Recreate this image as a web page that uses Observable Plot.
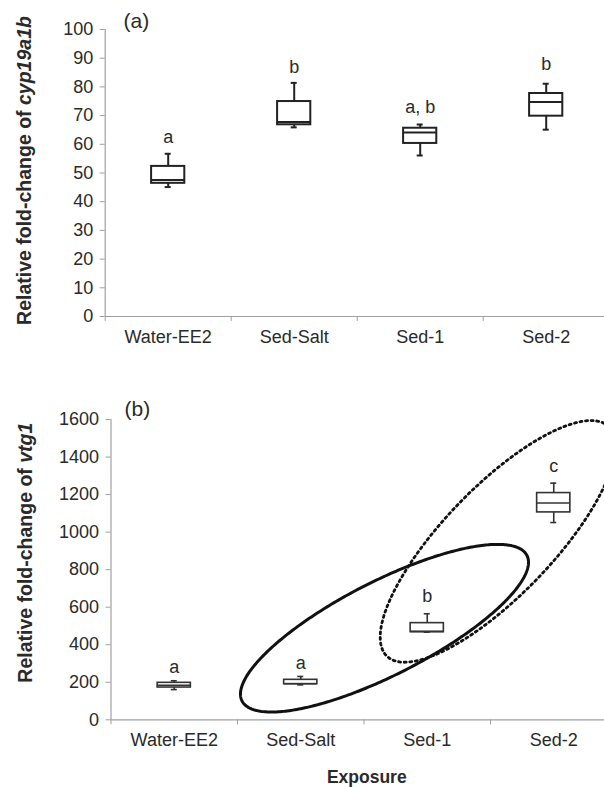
<!DOCTYPE html>
<html>
<head>
<meta charset="utf-8">
<script src="https://cdn.jsdelivr.net/npm/d3@7"></script>
<script src="https://cdn.jsdelivr.net/npm/@observablehq/plot@0.6"></script>
<style>
  html, body { margin: 0; padding: 0; background: white; overflow: hidden; }
  #wrap { position: relative; width: 604px; height: 787px; }
  .panel { position: absolute; left: 0; }
</style>
</head>
<body>
<div id="wrap">
  <div id="pa" class="panel" style="top:0px"></div>
  <div id="pb" class="panel" style="top:380px"></div>
</div>
<script>
// ---------- data ----------
const categories = ["Water-EE2", "Sed-Salt", "Sed-1", "Sed-2"];

// Panel (a): cyp19a1b
const aWhiskerLow  = [45.1, 65.9, 56.1, 65.1];
const aQ1          = [46.4, 66.8, 60.3, 69.8];
const aMedian      = [47.6, 67.8, 64.1, 74.7];
const aQ3          = [52.3, 74.9, 65.6, 77.7];
const aWhiskerHigh = [56.7, 81.4, 66.9, 81.1];
const aLetters     = ["a", "b", "a, b", "b"];
const aLetterY     = [62.4, 86.8, 72.8, 87.8];
const aTicks       = [0, 10, 20, 30, 40, 50, 60, 70, 80, 90, 100];

// Panel (b): vtg1
const bWhiskerLow  = [161, 186, 467, 1051];
const bQ1          = [172, 190, 467, 1105];
const bMedian      = [184, 192, 471, 1155];
const bQ3          = [197, 213, 515, 1208];
const bWhiskerHigh = [208, 231, 565, 1261];
const bLetters     = ["a", "a", "b", "c"];
const bLetterY     = [279, 302, 657, 1350];
const bTicks       = [0, 200, 400, 600, 800, 1000, 1200, 1400, 1600];

// Annotation ellipses in panel (b), data units (category index, value):
// centre and two conjugate semi-axis vectors
const ellipseSolid  = {cx: 1.662, cy: 488,   ax: 1.126, ay: 387.8, bx: 0.168, by: -221.6};
const ellipseDotted = {cx: 2.558, cy: 950.5, ax: 0.877, ay: 611.6, bx: 0.309, by: -201};

// ---------- helpers ----------
function rowsOf(lo, q1, med, q3, hi, letters, ly) {
  return categories.map((c, i) => ({i, c, lo: lo[i], q1: q1[i], med: med[i], q3: q3[i], hi: hi[i], letter: letters[i], ly: ly[i]}));
}
function outline(e) {
  return d3.range(0, 361, 1).map(deg => {
    const t = deg * Math.PI / 180;
    return {x: e.cx + Math.cos(t) * e.ax + Math.sin(t) * e.bx,
            y: e.cy + Math.cos(t) * e.ay + Math.sin(t) * e.by};
  });
}
function richLabel(svg, plain, normal, italic) {
  svg.querySelectorAll("text").forEach(t => {
    if (t.textContent === plain) {
      t.textContent = "";
      const ns = "http://www.w3.org/2000/svg";
      const s1 = document.createElementNS(ns, "tspan");
      s1.textContent = normal;
      const s2 = document.createElementNS(ns, "tspan");
      s2.setAttribute("font-style", "italic");
      s2.textContent = italic;
      t.appendChild(s1); t.appendChild(s2);
    }
  });
}

const FONT = "'Liberation Sans', Arial, Helvetica, sans-serif";
const AXIS_GREY = "#a0a0a0";
const TEXT = "#2a2a2a";

function boxMarks(rows, pxPerUnit, sw, col) {
  const bh = 16.6 / pxPerUnit, ch = 3 / pxPerUnit;
  return [
    Plot.ruleX(rows, {x: "i", y1: "lo", y2: "q1", stroke: col, strokeWidth: sw}),
    Plot.ruleX(rows, {x: "i", y1: "q3", y2: "hi", stroke: col, strokeWidth: sw}),
    Plot.ruleY(rows, {y: "hi", x1: d => d.i - ch, x2: d => d.i + ch, stroke: col, strokeWidth: sw}),
    Plot.ruleY(rows, {y: "lo", x1: d => d.i - ch, x2: d => d.i + ch, stroke: col, strokeWidth: sw}),
    Plot.rect(rows, {x1: d => d.i - bh, x2: d => d.i + bh, y1: "q1", y2: "q3", fill: "white", stroke: col, strokeWidth: sw}),
    Plot.ruleY(rows, {y: "med", x1: d => d.i - bh, x2: d => d.i + bh, stroke: col, strokeWidth: sw})
  ];
}

function axesMarks(ticks) {
  return [
    Plot.ruleY([0], {stroke: AXIS_GREY, strokeWidth: 1.2}),
    Plot.ruleX([-0.5], {stroke: AXIS_GREY, strokeWidth: 1.2}),
    Plot.axisY({ticks, tickSize: 5, tickPadding: 7, tickFormat: d => String(d), stroke: AXIS_GREY, fill: TEXT, fontSize: 18, label: null}),
    Plot.axisX({ticks: [-0.5, 0.5, 1.5, 2.5, 3.5], tickSize: 5, tickFormat: () => "", stroke: AXIS_GREY, label: null}),
    Plot.axisX({ticks: [0, 1, 2, 3], tickSize: 0, tickPadding: 13.5, tickFormat: i => categories[i], fill: TEXT, fontSize: 18, label: null})
  ];
}

// ---------- panel (a) ----------
const rowsA = rowsOf(aWhiskerLow, aQ1, aMedian, aQ3, aWhiskerHigh, aLetters, aLetterY);
const labelA = "Relative fold-change of cyp19a1b";
const plotA = Plot.plot({
  width: 604, height: 360,
  marginTop: 29, marginBottom: 44, marginLeft: 104.7, marginRight: 0,
  style: {fontFamily: FONT, fontSize: "18px", color: TEXT, background: "white", maxWidth: "none"},
  x: {type: "linear", domain: [-0.5, -0.5 + (604 - 104.7) / 126], axis: null},
  y: {domain: [0, 100], axis: null},
  marks: [
    ...axesMarks(aTicks),
    ...boxMarks(rowsA, 126, 2, "#222"),
    Plot.text(rowsA, {x: "i", y: "ly", text: "letter", fill: TEXT, fontSize: 18}),
    Plot.text(["(a)"], {frameAnchor: "top-left", textAnchor: "start", lineAnchor: "middle", dx: 18.3, dy: -8.6, fontSize: 21, fill: TEXT}),
    Plot.text([labelA], {frameAnchor: "left", rotate: -90, textAnchor: "middle", lineAnchor: "middle", dx: -80, dy: -2.5, fontSize: 19.5, fontWeight: "bold", fill: TEXT})
  ]
});
richLabel(plotA, labelA, "Relative fold-change of ", "cyp19a1b");
document.getElementById("pa").appendChild(plotA);

// ---------- panel (b) ----------
const rowsB = rowsOf(bWhiskerLow, bQ1, bMedian, bQ3, bWhiskerHigh, bLetters, bLetterY);
const labelB = "Relative fold-change of vtg1";
const plotB = Plot.plot({
  width: 604, height: 407,
  marginTop: 39, marginBottom: 67.7, marginLeft: 110.5, marginRight: 0,
  style: {fontFamily: FONT, fontSize: "18px", color: TEXT, background: "white", maxWidth: "none"},
  x: {type: "linear", domain: [-0.5, -0.5 + (604 - 110.5) / 126.5], axis: null},
  y: {domain: [0, 1600], axis: null},
  marks: [
    ...axesMarks(bTicks),
    ...boxMarks(rowsB, 126.5, 1.6, "#333"),
    Plot.line(outline(ellipseSolid), {x: "x", y: "y", stroke: "#111", strokeWidth: 3, curve: "linear"}),
    Plot.line(outline(ellipseDotted), {x: "x", y: "y", stroke: "#111", strokeWidth: 2.8, strokeDasharray: "2 3.6", curve: "linear"}),
    Plot.text(rowsB, {x: "i", y: "ly", text: "letter", fill: TEXT, fontSize: 18}),
    Plot.text(["(b)"], {frameAnchor: "top-left", textAnchor: "start", lineAnchor: "middle", dx: 13.5, dy: -10.3, fontSize: 21, fill: TEXT}),
    Plot.text([labelB], {frameAnchor: "left", rotate: -90, textAnchor: "middle", lineAnchor: "middle", dx: -85.7, dy: -17, fontSize: 19.5, fontWeight: "bold", fill: TEXT}),
    Plot.text(["Exposure"], {frameAnchor: "bottom", textAnchor: "middle", lineAnchor: "middle", dx: 9, dy: 57.7, fontSize: 17.5, fontWeight: "bold", fill: TEXT})
  ]
});
richLabel(plotB, labelB, "Relative fold-change of ", "vtg1");
document.getElementById("pb").appendChild(plotB);
</script>
</body>
</html>
